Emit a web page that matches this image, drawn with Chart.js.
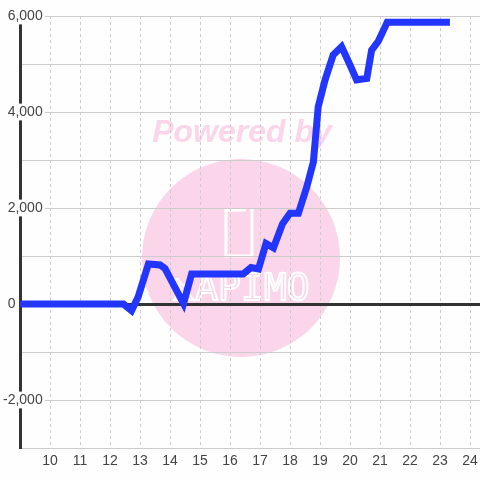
<!DOCTYPE html>
<html>
<head>
<meta charset="utf-8">
<script src="https://cdn.jsdelivr.net/npm/chart.js@4"></script>
<style>
  html, body { margin: 0; padding: 0; background: #fdfefd; }
  #wrap { width: 480px; height: 480px; position: relative; }
</style>
</head>
<body>
<div id="wrap"><canvas id="chart"></canvas></div>
<script>
// ===== data =====
const xValues = [8.5, 12.45, 12.72, 12.94, 13.28, 13.67, 13.83, 14.45, 14.72, 16.44, 16.7, 16.95,
    17.2, 17.45, 17.75, 18.0, 18.28, 18.56, 18.78, 18.94, 19.17, 19.44, 19.72, 20.0, 20.22,
    20.56, 20.72, 20.94, 21.24, 23.33];
const yValues = [0, 0, -140, 150, 833, 812, 740, 10, 625, 625, 760, 730,
    1260, 1170, 1670, 1890, 1890, 2440, 2960, 4110, 4670, 5190, 5360, 4980, 4670,
    4700, 5290, 5470, 5870, 5870];
const xRange = [9, 24.333];
const yRange = [-3000, 6000];
const yLabelTicks = [6000, 4000, 2000, 0, -2000];

const points = xValues.map((x, i) => ({ x: x, y: yValues[i] }));

// pink "Powered by" watermark, drawn under the grid
const watermark = {
    id: 'watermark',
    beforeDraw(chart) {
        const ctx = chart.ctx;
        ctx.save();
        ctx.fillStyle = '#fbd5ea';
        ctx.beginPath();
        ctx.arc(241, 258, 99, 0, Math.PI * 2);
        ctx.fill();

        ctx.font = 'italic bold 32px "Liberation Sans", Arial, sans-serif';
        ctx.textAlign = 'center';
        ctx.textBaseline = 'middle';
        ctx.fillText('Powered by', 242, 133);

        // logo outline
        ctx.strokeStyle = '#ffffff';
        ctx.lineWidth = 3;
        ctx.beginPath();
        ctx.moveTo(252, 208);
        ctx.lineTo(252, 256);
        ctx.lineTo(226, 256);
        ctx.lineTo(226, 210);
        ctx.lineTo(246, 210);
        ctx.stroke();
        ctx.lineWidth = 2;
        ctx.font = '38px "DejaVu Sans Mono", monospace';
        ctx.strokeText('xAPIMO', 241, 290);
        ctx.restore();
    }
};

new Chart(document.getElementById('chart'), {
    type: 'line',
    data: {
        datasets: [{
            data: points,
            borderColor: '#2236ff',
            borderWidth: 7,
            pointRadius: 0,
            tension: 0,
            fill: false
        }]
    },
    options: {
        responsive: true,
        maintainAspectRatio: false,
        animation: false,
        layout: { padding: { top: 16, right: 0, bottom: 0, left: 0 } },
        plugins: {
            legend: { display: false },
            tooltip: { enabled: false }
        },
        scales: {
            x: {
                type: 'linear',
                min: xRange[0],
                max: xRange[1],
                grid: {
                    color: '#cccccc',
                    lineWidth: 1,
                    drawTicks: false
                },
                // in v4 border.dash also dashes the grid lines
                border: { color: '#cccccc', width: 1, dash: [3, 3] },
                ticks: {
                    stepSize: 1,
                    includeBounds: false,
                    padding: 5,
                    color: '#444444',
                    font: { family: '"Liberation Sans", Arial, sans-serif', size: 14 },
                    maxRotation: 0,
                    autoSkip: false,
                    callback: v => (v === xRange[0] ? '' : String(v))
                },
                afterFit: s => {
                    s.height = 32;
                    s.paddingRight = 0;
                    s.paddingLeft = 0;
                }
            },
            y: {
                type: 'linear',
                min: yRange[0],
                max: yRange[1],
                border: { color: '#333333', width: 3 },
                grid: {
                    color: c => (c.tick && c.tick.value === 0 ? '#333333' : '#cccccc'),
                    lineWidth: c => (c.tick && c.tick.value === 0 ? 3 : 1),
                    drawTicks: false
                },
                ticks: {
                    stepSize: 1000,
                    mirror: true,
                    crossAlign: 'far',
                    padding: -17,
                    color: '#444444',
                    font: { family: '"Liberation Sans", Arial, sans-serif', size: 14 },
                    showLabelBackdrop: c => c.tick.value !== 0 && yLabelTicks.includes(c.tick.value),
                    backdropColor: '#fdfefd',
                    backdropPadding: { top: 0, bottom: 0, left: 2, right: 2 },
                    callback: v => {
                        if (!yLabelTicks.includes(v)) return '';
                        if (v === 0) return '0' + '\u00a0'.repeat(7);
                        return v.toLocaleString('en-US');
                    }
                },
                afterFit: s => { s.width = 20; }
            }
        }
    },
    plugins: [watermark]
});
</script>
</body>
</html>
